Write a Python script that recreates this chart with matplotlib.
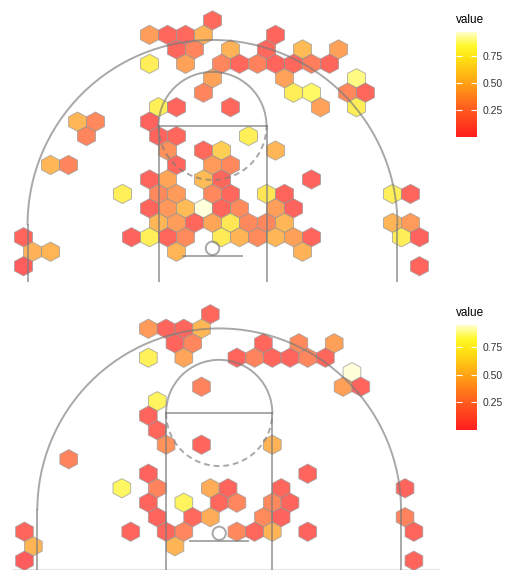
import numpy as np
import matplotlib
matplotlib.use("Agg")
import matplotlib.pyplot as plt
from matplotlib.collections import PolyCollection
from matplotlib.patches import Arc, Circle
from matplotlib.colors import LinearSegmentedColormap, Normalize
from matplotlib.cm import ScalarMappable

plt.rcParams["font.family"] = ["Liberation Sans", "DejaVu Sans"]

# ---------------- data (court feet, basket at 0,0) ----------------
top_x = [0,
         -7, -5, -3, -1, 7,
         -4, -2, 2, 6, 10, 14,
         -7, -3, 1, 3, 5, 7, 9, 11, 13,
         0, 8, 16,
         -1, 9, 11, 15, 17,
         -6, -4, 2, 12, 16,
         -15, -13, -7,
         -14, -6, -4, 4,
         -5, -1, 1, 7,
         -18, -16, -4, 0, 2,
         -7, -5, -1, 1, 11,
         -10, -6, -4, 0, 2, 6, 8, 20, 22,
         -7, -5, -3, -1, 1, 3, 7, 9,
         -6, -4, -2, 0, 2, 4, 6, 8, 20, 22,
         -21, -9, -7, -5, -3, 1, 3, 5, 7, 9, 11, 21, 23,
         -20, -18, -4, 10,
         -21, 23]
top_y = [25.32,
         23.71, 23.71, 23.71, 23.71, 23.71,
         22.10, 22.10, 22.10, 22.10, 22.10, 22.10,
         20.50, 20.50, 20.50, 20.50, 20.50, 20.50, 20.50, 20.50, 20.50,
         18.89, 18.89, 18.89,
         17.29, 17.29, 17.29, 17.29, 17.29,
         15.68, 15.68, 15.68, 15.68, 15.68,
         14.07, 14.07, 14.07,
         12.47, 12.47, 12.47, 12.47,
         10.86, 10.86, 10.86, 10.86,
         9.26, 9.26, 9.26, 9.26, 9.26,
         7.65, 7.65, 7.65, 7.65, 7.65,
         6.04, 6.04, 6.04, 6.04, 6.04, 6.04, 6.04, 6.04, 6.04,
         4.44, 4.44, 4.44, 4.44, 4.44, 4.44, 4.44, 4.44,
         2.83, 2.83, 2.83, 2.83, 2.83, 2.83, 2.83, 2.83, 2.83, 2.83,
         1.23, 1.23, 1.23, 1.23, 1.23, 1.23, 1.23, 1.23, 1.23, 1.23, 1.23, 1.23, 1.23,
         -0.38, -0.38, -0.38, -0.38,
         -1.99, -1.99]
top_value = [0.08,
             0.36, 0.06, 0.07, 0.46, 0.05,
             0.06, 0.24, 0.45, 0.07, 0.50, 0.38,
             0.76, 0.38, 0.25, 0.06, 0.22, 0.05, 0.07, 0.20, 0.06,
             0.38, 0.38, 0.88,
             0.24, 0.76, 0.85, 0.26, 0.06,
             0.77, 0.05, 0.06, 0.38, 0.76,
             0.48, 0.26, 0.04,
             0.24, 0.05, 0.06, 0.78,
             0.30, 0.07, 0.60, 0.48,
             0.48, 0.24, 0.06, 0.34, 0.26,
             0.05, 0.40, 0.50, 0.06, 0.04,
             0.78, 0.26, 0.35, 0.26, 0.06, 0.72, 0.05, 0.78, 0.05,
             0.05, 0.33, 0.50, 0.976, 0.06, 0.27, 0.36, 0.04,
             0.48, 0.36, 0.06, 0.40, 0.72, 0.26, 0.25, 0.48, 0.47, 0.35,
             0.05, 0.04, 0.78, 0.06, 0.27, 0.74, 0.47, 0.27, 0.48, 0.37, 0.05, 0.76, 0.04,
             0.46, 0.47, 0.47, 0.46,
             0.00, 0.05]

bottom_x = [-1,
            -8, -6, -4, -2,
            -5, -3, 5, 9, 13,
            -8, -4, 2, 4, 6, 8, 10, 12,
            15,
            -2, 14, 16,
            -7,
            -8,
            -7,
            -6, -2, 6,
            -17,
            -8, 10,
            -11, -7, -1, 1, 7, 21,
            -8, -4, 0, 2, 6, 8,
            -7, -3, -1, 5, 7, 21,
            -22, -10, -6, -4, 2, 4, 6, 10, 22,
            -21, -5,
            -22, 22]
bottom_y = [24.75,
            23.11, 23.11, 23.11, 23.11,
            21.47, 21.47, 21.47, 21.47, 21.47,
            19.84, 19.84, 19.84, 19.84, 19.84, 19.84, 19.84, 19.84,
            18.20,
            16.56, 16.56, 16.56,
            14.92,
            13.28,
            11.65,
            10.01, 10.01, 10.01,
            8.37,
            6.73, 6.73,
            5.09, 5.09, 5.09, 5.09, 5.09, 5.09,
            3.46, 3.46, 3.46, 3.46, 3.46, 3.46,
            1.82, 1.82, 1.82, 1.82, 1.82, 1.82,
            0.18, 0.18, 0.18, 0.18, 0.18, 0.18, 0.18, 0.18, 0.18,
            -1.46, -1.46,
            -3.10, -3.10]
bottom_value = [0.06,
                0.33, 0.05, 0.06, 0.47,
                0.05, 0.24, 0.06, 0.26, 0.36,
                0.76, 0.38, 0.05, 0.22, 0.06, 0.05, 0.24, 0.06,
                0.948,
                0.22, 0.36, 0.05,
                0.78,
                0.05,
                0.06,
                0.30, 0.05, 0.45,
                0.22,
                0.04, 0.05,
                0.80, 0.22, 0.42, 0.05, 0.06, 0.05,
                0.05, 0.78, 0.06, 0.24, 0.25, 0.05,
                0.05, 0.07, 0.42, 0.26, 0.04, 0.22,
                0.05, 0.05, 0.06, 0.24, 0.25, 0.06, 0.46, 0.04, 0.05,
                0.46, 0.46,
                0.00, 0.05]

legend_title = "value"
legend_ticks = [0.25, 0.50, 0.75]
legend_tick_labels = ["0.25", "0.50", "0.75"]

# ---------------- styling ----------------
W, H = 513, 570
fig = plt.figure(figsize=(W / 100, H / 100), dpi=100)

cmap = LinearSegmentedColormap.from_list(
    "shot", [(0.0, "#FF1E1E"), (0.26, "#FF5A1E"), (0.51, "#FFA014"),
             (0.77, "#FFE614"), (0.87, "#FFF82A"), (1.0, "#FFFFCC")])

LINE = dict(color="#7a7a7a", alpha=0.65, lw=1.4, zorder=4)


def px_axes(x0, y0, x1, y1):
    return fig.add_axes([x0 / W, 1 - y1 / H, (x1 - x0) / W, (y1 - y0) / H])


def draw_court(ax):
    arc_cy, arc_r = 2.6, 20.55
    ax.add_patch(Arc((0, arc_cy), 2 * arc_r, 2 * arc_r, theta1=0, theta2=180, **LINE))
    for sx in (-arc_r, arc_r):
        ax.plot([sx, sx], [arc_cy, -10], **LINE)
    ft_y = 13.6
    for sx in (-6, 6):
        ax.plot([sx, sx], [ft_y, -10], **LINE)
    ax.plot([-6, 6], [ft_y, ft_y], **LINE)
    ax.add_patch(Arc((0, ft_y), 12, 12, theta1=0, theta2=180, **LINE))
    ax.add_patch(Arc((0, ft_y), 12, 12, theta1=180, theta2=360,
                     linestyle=(0, (3, 2)), **LINE))
    ax.add_patch(Circle((0, 0), 0.75, fill=False, **LINE))
    ax.plot([-3.3, 3.3], [-0.9, -0.9], **LINE)


def draw_panel(rect, xs, ys, vals, hex_w, hex_dy, scale_px, baseline=False):
    x0, y0, x1, y1, hx, hy = rect
    ax = px_axes(x0, y0, x1, y1)
    ax.set_xlim((x0 - hx) / scale_px, (x1 - hx) / scale_px)
    ax.set_ylim((hy - y1) / scale_px, (hy - y0) / scale_px)
    ax.set_aspect("auto")
    ax.axis("off")
    vals = np.asarray(vals)
    norm = Normalize(vals.min(), vals.max())
    hh = hex_dy * 4 / 3
    tmpl = np.array([[0, hh / 2], [hex_w / 2, hh / 4], [hex_w / 2, -hh / 4],
                     [0, -hh / 2], [-hex_w / 2, -hh / 4], [-hex_w / 2, hh / 4]])
    verts = [tmpl + np.array([x, y]) for x, y in zip(xs, ys)]
    pc = PolyCollection(verts, facecolors=cmap(norm(vals)), edgecolors="#9a9a9a",
                        linewidths=0.7, alpha=0.72, zorder=2)
    ax.add_collection(pc)
    draw_court(ax)
    if baseline:
        yb = (hy - (y1 - 1)) / scale_px
        ax.plot([(13 - hx) / scale_px, (x1 - hx) / scale_px], [yb, yb],
                color="#e6e6e6", lw=0.8, zorder=1)
    return norm


def draw_legend(y_bar0, y_bar1, norm):
    cax = px_axes(456, y_bar0, 477, y_bar1)
    sm = ScalarMappable(norm=norm, cmap=cmap)
    cb = fig.colorbar(sm, cax=cax)
    cb.outline.set_visible(False)
    cb.set_ticks(legend_ticks)
    cb.set_ticklabels(legend_tick_labels)
    cax.tick_params(axis="y", direction="in", length=4, width=0.8, color="white",
                    left=True, right=True, labelsize=7.5, labelcolor="#333333", pad=4)
    cax.text(0.0, 1.0 + 12 / (y_bar1 - y_bar0), legend_title, transform=cax.transAxes,
             ha="left", va="center", fontsize=8.5, color="black")


norm_top = draw_panel((0, 0, 440, 282, 212.5, 248.3), top_x, top_y, top_value,
                      2.0, 1.606, 9.0)
norm_bot = draw_panel((0, 288, 440, 570, 219.2, 533.3), bottom_x, bottom_y, bottom_value,
                      2.0, 1.638, 8.85, baseline=True)
draw_legend(32, 137, norm_top)
draw_legend(325, 430, norm_bot)

fig.savefig("out.png", dpi=100)
